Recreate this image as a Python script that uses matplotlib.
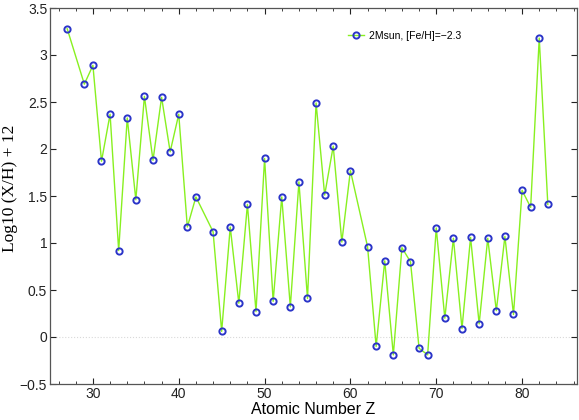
import matplotlib
matplotlib.use("Agg")
from matplotlib import pyplot as plt
from matplotlib.ticker import MultipleLocator
import numpy as np

# atomic number and abundance
z = [27, 29, 30, 31, 32, 33, 34, 35, 36, 37, 38, 39, 40, 41, 42, 44, 45, 46,
     47, 48, 49, 50, 51, 52, 53, 54, 55, 56, 57, 58, 59, 60, 62, 63, 64, 65,
     66, 67, 68, 69, 70, 71, 72, 73, 74, 75, 76, 77, 78, 79, 80, 81, 82, 83]
logeps = [3.28, 2.69, 2.89, 1.87, 2.37, 0.92, 2.33, 1.46, 2.56, 1.88, 2.55,
          1.97, 2.37, 1.17, 1.49, 1.12, 0.06, 1.17, 0.36, 1.41, 0.27, 1.90,
          0.38, 1.49, 0.32, 1.65, 0.41, 2.49, 1.51, 2.03, 1.01, 1.77, 0.96,
          -0.10, 0.81, -0.19, 0.95, 0.80, -0.12, -0.19, 1.16, 0.20, 1.05,
          0.09, 1.06, 0.14, 1.05, 0.28, 1.07, 0.24, 1.56, 1.38, 3.18, 1.41]
label = "2Msun, [Fe/H]=\u22122.3"
yticks = [-0.5, 0, 0.5, 1, 1.5, 2, 2.5, 3, 3.5]
yticklabels = ['\u22120.5', '0', '0.5', '1', '1.5', '2', '2.5', '3', '3.5']

plt.rcParams['font.family'] = ['Liberation Sans', 'DejaVu Sans']
plt.rcParams['axes.unicode_minus'] = True

fig = plt.figure(figsize=(5.79, 4.2), dpi=100)
ax = fig.add_axes([50/579, 36/420, 527/579, 376/420])

ax.axhline(0, color='0.85', ls=':', lw=0.8, zorder=1)
ax.plot(z, logeps, '-o', color='#88f020', lw=1.0,
        mfc='none', mec='#2b35c8', mew=1.4, ms=4.5, label=label, zorder=3)

ax.set_xlim(25, 86.4)
ax.set_ylim(-0.5, 3.5)
ax.xaxis.set_major_locator(MultipleLocator(10))
ax.xaxis.set_minor_locator(MultipleLocator(2))
ax.set_yticks(yticks)
ax.set_yticklabels(yticklabels)
ax.tick_params(which='both', direction='in', top=True, right=True,
               labelsize=10, colors='#222222', pad=2)
ax.tick_params(which='major', length=4, width=0.8)
ax.tick_params(which='minor', length=2, width=0.6)
for s in ax.spines.values():
    s.set_color('#555555')
    s.set_linewidth(0.9)

ax.set_xlabel('Atomic Number Z', fontsize=11.5, labelpad=1)
ax.set_ylabel('Log10 (X/H) + 12', fontsize=12.5, family=['Liberation Serif'])
ax.yaxis.set_label_coords(-0.06, 0.52)

ax.legend(loc='center left', bbox_to_anchor=(0.556, 0.926), frameon=False,
          fontsize=7.5, handlelength=1.5, handletextpad=0.5, borderpad=0)

fig.savefig("out.png", dpi=100)
plt.close()
